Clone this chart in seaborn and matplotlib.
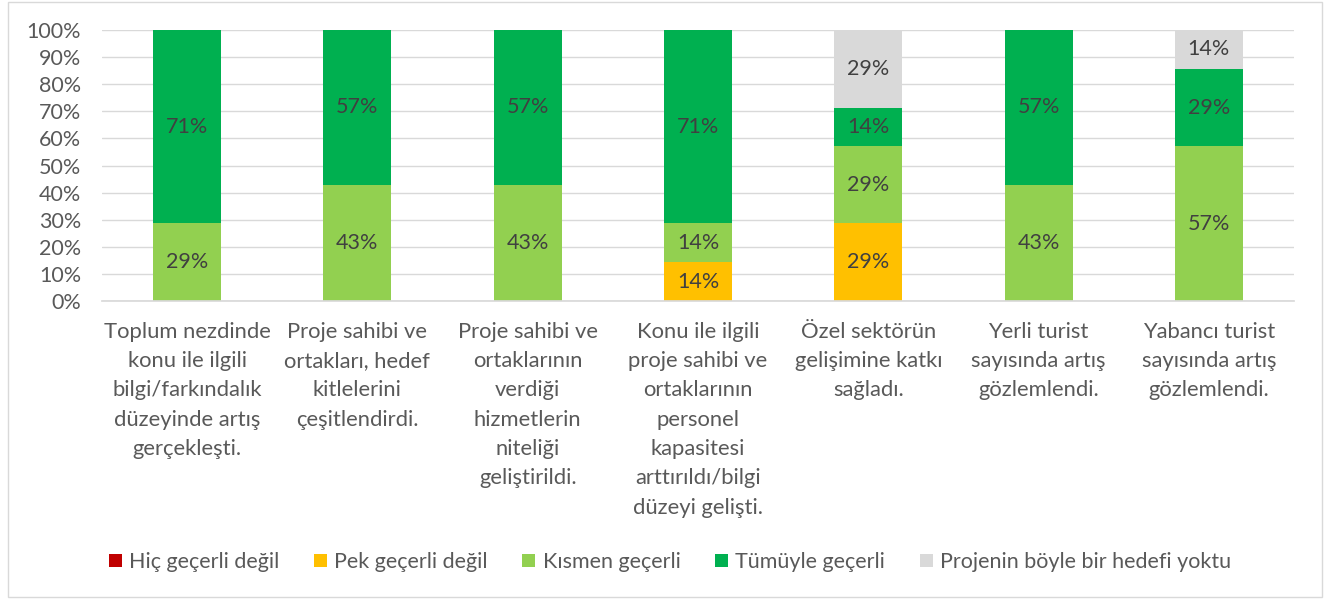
import matplotlib
matplotlib.use("Agg")
import matplotlib.pyplot as plt
import seaborn as sns
import pandas as pd
import numpy as np
from matplotlib.patches import Rectangle

categories = [
    "Toplum nezdinde\nkonu ile ilgili\nbilgi/farkındalık\ndüzeyinde artış\ngerçekleşti.",
    "Proje sahibi ve\nortakları, hedef\nkitlelerini\nçeşitlendirdi.",
    "Proje sahibi ve\nortaklarının\nverdiği\nhizmetlerin\nniteliği\ngeliştirildi.",
    "Konu ile ilgili\nproje sahibi ve\nortaklarının\npersonel\nkapasitesi\narttırıldı/bilgi\ndüzeyi gelişti.",
    "Özel sektörün\ngelişimine katkı\nsağladı.",
    "Yerli turist\nsayısında artış\ngözlemlendi.",
    "Yabancı turist\nsayısında artış\ngözlemlendi.",
]
series_names = ["Hiç geçerli değil", "Pek geçerli değil", "Kısmen geçerli",
                "Tümüyle geçerli", "Projenin böyle bir hedefi yoktu"]
hic = [0, 0, 0, 0, 0, 0, 0]
pek = [0, 0, 0, 14.3, 28.6, 0, 0]
kismen = [28.6, 42.9, 42.9, 14.3, 28.6, 42.9, 57.1]
tumuyle = [71.4, 57.1, 57.1, 71.4, 14.2, 57.1, 28.6]
yoktu = [0, 0, 0, 0, 28.6, 0, 14.3]
colors = ["#C00000", "#FFC000", "#92D050", "#00B050", "#D9D9D9"]

FS = 15.5

sns.set_theme(style="white")
plt.rcParams["font.family"] = ["Lato", "DejaVu Sans"]

fig = plt.figure(figsize=(13.33, 5.99), dpi=100)
ax = fig.add_axes([102/1333, 1-301/599, (1294-102)/1333, (301-30)/599])

values = [hic, pek, kismen, tumuyle, yoktu]
bottom = np.zeros(len(categories))
for name, vals, col in zip(series_names, values, colors):
    df = pd.DataFrame({"cat": categories, "val": vals})
    sns.barplot(data=df, x="cat", y="val", color=col, width=0.4,
                bottom=bottom.copy(), errorbar=None, ax=ax, label=name,
                saturation=1, linewidth=0)
    for i, v in enumerate(vals):
        if v > 0:
            top = min(bottom[i] + v, 100)
            ax.text(i, (bottom[i] + top) / 2, f"{int(v + 0.5)}%",
                    ha="center", va="center", fontsize=FS, color="#404040")
    bottom += np.array(vals)

ax.set_ylim(0, 100)
ax.set_xlim(-0.5, len(categories) - 0.5)
ax.set_yticks(np.arange(0, 101, 10))
ax.set_yticklabels([f"{t}%" for t in range(0, 101, 10)])
ax.yaxis.grid(True, color="#D9D9D9", linewidth=1)
ax.set_axisbelow(True)
for s in ["left", "right", "top"]:
    ax.spines[s].set_visible(False)
ax.spines["bottom"].set_color("#D9D9D9")
ax.tick_params(axis="y", length=0, pad=15, labelsize=FS, labelcolor="#595959")
ax.tick_params(axis="x", length=0, pad=15, labelsize=15.8, labelcolor="#595959")
for lbl in ax.get_xticklabels():
    lbl.set_linespacing(1.58)
    lbl.set_va("top")
ax.set_xlabel("")
ax.set_ylabel("")

handles, labels = ax.get_legend_handles_labels()
fig.legend(handles, labels, loc="center", bbox_to_anchor=(670/1333, 1-562/599),
           ncol=5, frameon=False, fontsize=FS, handlelength=0.6, handleheight=0.6,
           handletextpad=0.35, columnspacing=1.6, labelcolor="#595959")
if ax.get_legend() is not None:
    ax.get_legend().remove()

fig.patches.append(Rectangle((8/1333, 2/599), (1322-8)/1333, (597-2)/599,
                             transform=fig.transFigure, fill=False,
                             edgecolor="#D9D9D9", linewidth=1))

fig.savefig("out.png", dpi=100)
